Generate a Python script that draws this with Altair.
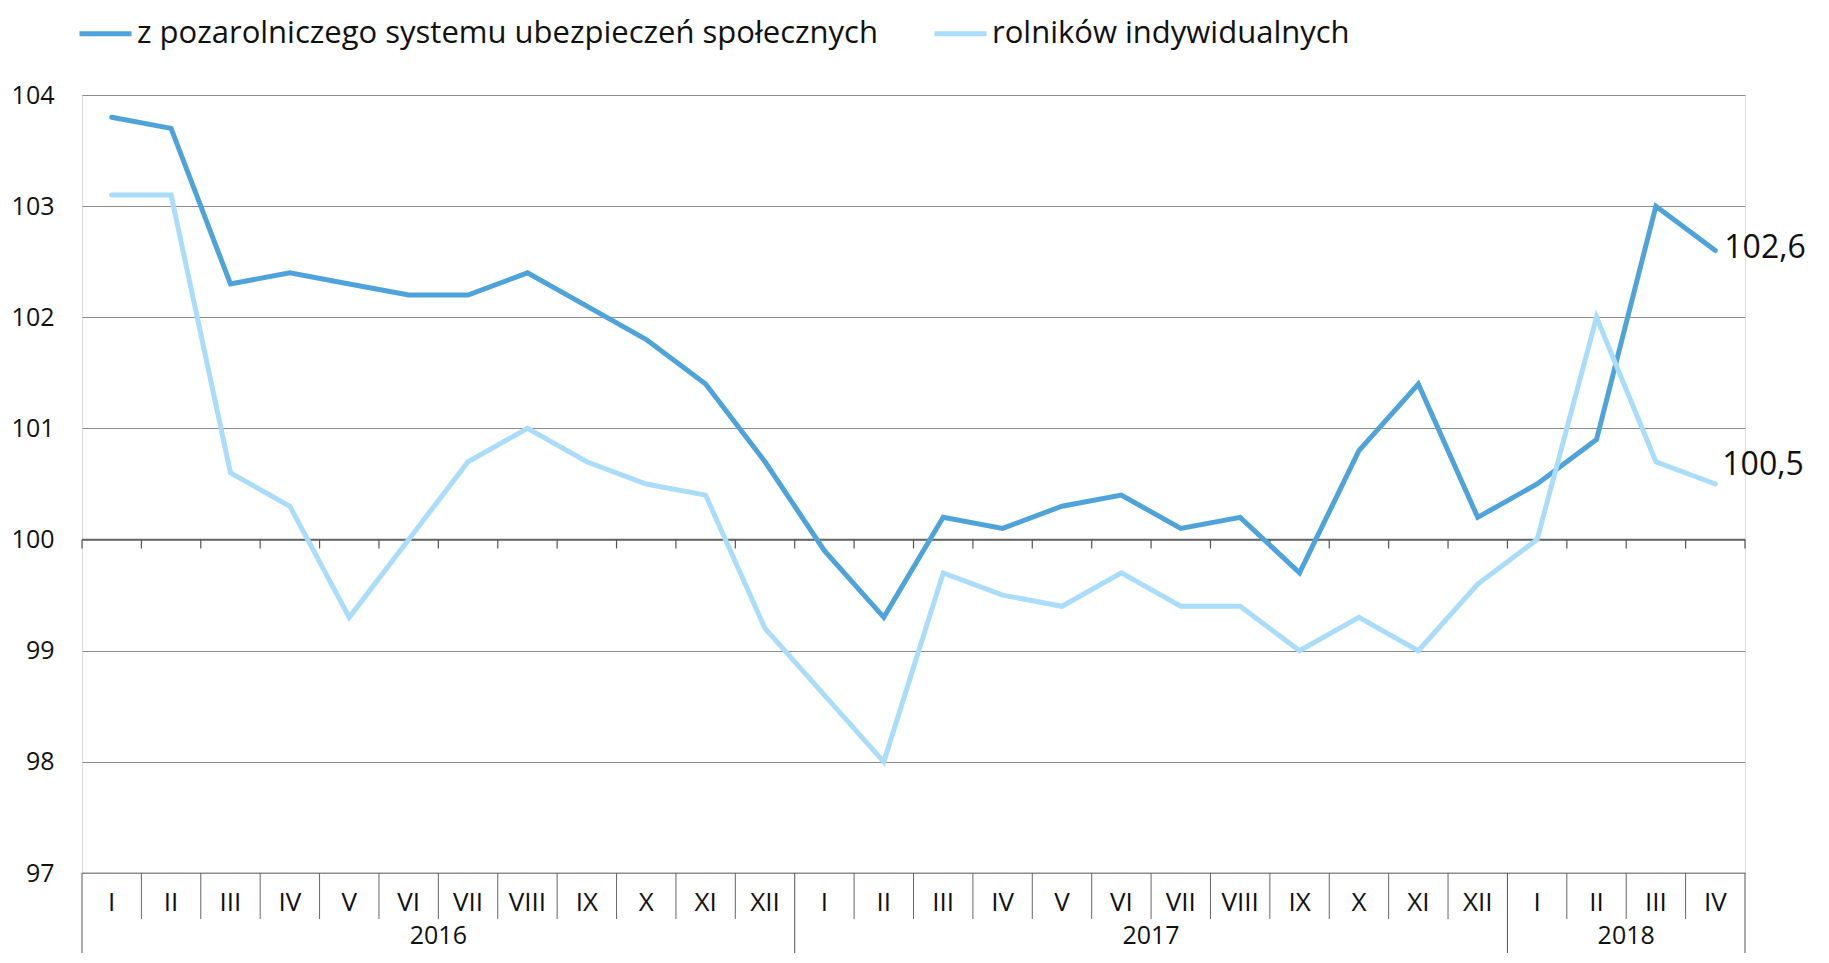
import altair as alt
import pandas as pd

months = ["I", "II", "III", "IV", "V", "VI", "VII", "VIII", "IX", "X", "XI", "XII",
          "I", "II", "III", "IV", "V", "VI", "VII", "VIII", "IX", "X", "XI", "XII",
          "I", "II", "III", "IV"]
years = ["2016", "2017", "2018"]
year_start = [0, 12, 24]
year_end = [12, 24, 28]

series_a = "z pozarolniczego systemu ubezpieczeń społecznych"
series_b = "rolników indywidualnych"

values_a = [103.8, 103.7, 102.3, 102.4, 102.3, 102.2, 102.2, 102.4, 102.1, 101.8, 101.4, 100.7,
            99.9, 99.3, 100.2, 100.1, 100.3, 100.4, 100.1, 100.2, 99.7, 100.8, 101.4, 100.2,
            100.5, 100.9, 103.0, 102.6]
values_b = [103.1, 103.1, 100.6, 100.3, 99.3, 100.0, 100.7, 101.0, 100.7, 100.5, 100.4, 99.2,
            98.6, 98.0, 99.7, 99.5, 99.4, 99.7, 99.4, 99.4, 99.0, 99.3, 99.0, 99.6,
            100.0, 102.0, 100.7, 100.5]

end_labels = ["102,6", "100,5"]
y_ticks = [97, 98, 99, 100, 101, 102, 103, 104]

FONT = "Open Sans"
BLUE = "#4fa3db"
LIGHT = "#aadcfb"

n = len(months)
rows = []
for i in range(n):
    rows.append({"pos": i + 0.5, "value": values_a[i], "series": series_a})
    rows.append({"pos": i + 0.5, "value": values_b[i], "series": series_b})
df = pd.DataFrame(rows)

df_months = pd.DataFrame({"pos": [i + 0.5 for i in range(n)], "label": months})
bounds = list(range(n + 1))
year_bounds = sorted(set(year_start + year_end))
df_month_sep = pd.DataFrame({"b": [b for b in bounds if b not in year_bounds]})
df_year_sep = pd.DataFrame({"b": year_bounds})
df_years = pd.DataFrame({"pos": [(s + e) / 2 for s, e in zip(year_start, year_end)], "label": years})
df_end = pd.DataFrame({
    "pos": [n - 0.5, n - 0.5],
    "value": [values_a[-1], values_b[-1]],
    "label": end_labels,
    "series": [series_a, series_b],
})

H = 778
W = 1663
xscale = alt.Scale(domain=[0, n], nice=False, zero=False)
yscale = alt.Scale(domain=[97, 104], nice=False, zero=False)

X = lambda f: alt.X(f, type="quantitative", scale=xscale, axis=None)

lines = alt.Chart(df).mark_line(strokeWidth=5, strokeCap="round").encode(
    x=X("pos"),
    y=alt.Y("value:Q", scale=yscale, title=None,
            axis=alt.Axis(values=y_ticks, format="d", grid=True,
                          gridColor="#8c8c8c", gridWidth=1, ticks=False, domain=False,
                          labelFontSize=25, labelFont=FONT, labelColor="#111111",
                          labelPadding=28)),
    color=alt.Color("series:N",
                    scale=alt.Scale(domain=[series_a, series_b], range=[BLUE, LIGHT]),
                    legend=alt.Legend(orient="none", legendX=-5, legendY=-90,
                                      direction="horizontal", title=None,
                                      symbolType="stroke", symbolSize=2704,
                                      symbolStrokeWidth=5, labelFontSize=31,
                                      labelFont=FONT, labelColor="#111111",
                                      labelOffset=3, columnPadding=46,
                                      labelLimit=1200)),
    order=alt.Order("pos:Q"),
)

zero_line = alt.Chart(pd.DataFrame({"v": [100]})).mark_rule(color="#666666", strokeWidth=1.5).encode(
    y=alt.Y("v:Q", scale=yscale), x=alt.value(0), x2=alt.value(W)
)

zero_ticks = alt.Chart(pd.DataFrame({"b": bounds, "v": [100] * len(bounds), "v2": [99.92] * len(bounds)})).mark_rule(
    color="#555555", strokeWidth=1.2).encode(
    x=X("b"), y=alt.Y("v:Q", scale=yscale), y2="v2:Q"
)

month_sep = alt.Chart(df_month_sep).mark_rule(color="#666666", strokeWidth=1).encode(
    x=X("b"), y=alt.value(H), y2=alt.value(H + 46)
)
year_sep = alt.Chart(df_year_sep).mark_rule(color="#555555", strokeWidth=1).encode(
    x=X("b"), y=alt.value(H), y2=alt.value(H + 100)
)
bottom_line = alt.Chart(pd.DataFrame({"v": [97]})).mark_rule(color="#8c8c8c", strokeWidth=1).encode(
    y=alt.Y("v:Q", scale=yscale), x=alt.value(0), x2=alt.value(W)
)

month_text = alt.Chart(df_months).mark_text(fontSize=26, font=FONT, color="#111111", baseline="middle").encode(
    x=X("pos"), y=alt.value(H + 30), text="label:N"
)
year_text = alt.Chart(df_years).mark_text(fontSize=25, font=FONT, color="#111111", baseline="middle").encode(
    x=X("pos"), y=alt.value(H + 63), text="label:N"
)

end_a = alt.Chart(df_end[df_end.series == series_a]).mark_text(
    fontSize=32, font=FONT, color="#111111", align="left", baseline="middle", dx=9, dy=-3).encode(
    x=X("pos"), y=alt.Y("value:Q", scale=yscale), text="label:N"
)
end_b = alt.Chart(df_end[df_end.series == series_b]).mark_text(
    fontSize=32, font=FONT, color="#111111", align="left", baseline="middle", dx=7, dy=-19).encode(
    x=X("pos"), y=alt.Y("value:Q", scale=yscale), text="label:N"
)

chart = alt.layer(
    bottom_line, zero_line, zero_ticks, month_sep, year_sep, month_text, year_text,
    lines, end_a, end_b
).properties(
    width=W, height=H,
    autosize=alt.AutoSizeParams(type="none"),
    padding={"left": 74, "top": 87, "right": 65, "bottom": 80},
).configure_view(stroke=None).configure(background="white")

chart.save("out.html", embed_options={"renderer": "svg", "actions": False})
